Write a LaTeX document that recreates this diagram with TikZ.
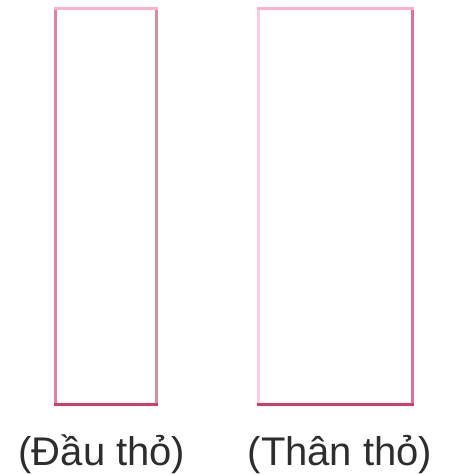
\documentclass[tikz,border=0pt]{standalone}
\usepackage{fontspec}
\setmainfont{Liberation Sans}
\definecolor{toppink}{RGB}{255,178,202}
\definecolor{botred}{RGB}{208,62,104}
\definecolor{lboxl}{RGB}{222,130,162}
\definecolor{lboxr}{RGB}{205,145,160}
\definecolor{rboxl}{RGB}{255,205,220}
\definecolor{rboxr}{RGB}{226,112,150}
\definecolor{txt}{RGB}{45,45,45}
\begin{document}
\begin{tikzpicture}[x=1pt,y=-1pt,
  edge/.style={line width=3pt,line cap=rect},
  lab/.style={text=txt,font=\fontsize{40}{40}\selectfont,anchor=base,inner sep=0pt}]
\useasboundingbox (0,0) rectangle (449,475);
% left box
\coordinate (a1) at (55,8);
\coordinate (a2) at (156,8);
\coordinate (a3) at (156,404);
\coordinate (a4) at (55,404);
\draw[edge,lboxl] (a1) -- (a4);
\draw[edge,lboxr] (a2) -- (a3);
\draw[edge,toppink] (a1) -- (a2);
\draw[edge,botred] (a4) -- (a3);
% right box
\coordinate (b1) at (258,8);
\coordinate (b2) at (412,8);
\coordinate (b3) at (412,404);
\coordinate (b4) at (258,404);
\draw[edge,rboxl] (b1) -- (b4);
\draw[edge,rboxr] (b2) -- (b3);
\draw[edge,toppink] (b1) -- (b2);
\draw[edge,botred] (b4) -- (b3);
\node[lab] (l1) at (102,465) {(Đầu thỏ)};
\node[lab] (l2) at (340,465) {(Thân thỏ)};
\end{tikzpicture}
\end{document}
